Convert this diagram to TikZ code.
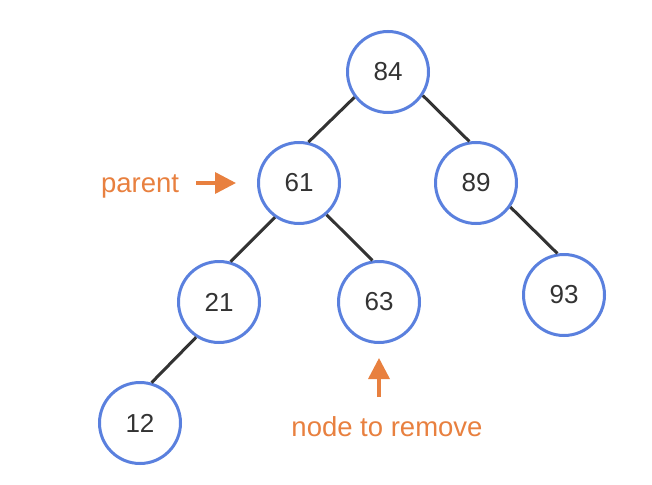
\documentclass[tikz,border=0pt]{standalone}
\usepackage{fontspec}
\setmainfont{Liberation Sans}
\usetikzlibrary{arrows.meta}
\definecolor{nodeblue}{HTML}{5A80DE}
\definecolor{markorange}{HTML}{E8803F}
\definecolor{edgegray}{HTML}{333333}
\tikzset{
    treenode/.style={circle,draw=nodeblue,line width=3pt,minimum size=81pt,inner sep=0pt,text=edgegray,font=\fontsize{26}{31}\selectfont},
    treeedge/.style={draw=edgegray,line width=3pt},
    marktext/.style={text=markorange,font=\fontsize{27.5}{33}\selectfont},
    markarrow/.style={draw=markorange,line width=3.5pt,-{Triangle[length=21pt,width=21pt]}}
}
\begin{document}
\begin{tikzpicture}[x=1pt,y=-1pt]
        \useasboundingbox (0,0) rectangle (652,484);
        %% Tree nodes
        \node[treenode] (n84) at (388,72) {84};
        \node[treenode] (n61) at (299,183) {61};
        \node[treenode] (n89) at (476,183) {89};
        \node[treenode] (n21) at (219,302) {21};
        \node[treenode] (n63) at (379,302) {63};
        \node[treenode] (n93) at (564,295) {93};
        \node[treenode] (n12) at (140,423) {12};
        %% Edges
        \draw[treeedge] (n84.217) -- (n61.77);
        \draw[treeedge] (n84.326) -- (n89.99);
        \draw[treeedge] (n61.235) -- (n21.74);
        \draw[treeedge] (n61.311) -- (n63.99);
        \draw[treeedge] (n89.325) -- (n93.99);
        \draw[treeedge] (n21.237) -- (n12.74);
        %% Labels
        \node[marktext] (parent) at (140,186) {parent};
        \coordinate (parenttip) at (236,183);
        \draw[markarrow] (196,183) -- (parenttip);
        \node[marktext] (remove) at (387,427) {node to remove};
        \coordinate (removetip) at (379,358);
        \draw[markarrow] (379,397) -- (removetip);
    \end{tikzpicture}
\end{document}
